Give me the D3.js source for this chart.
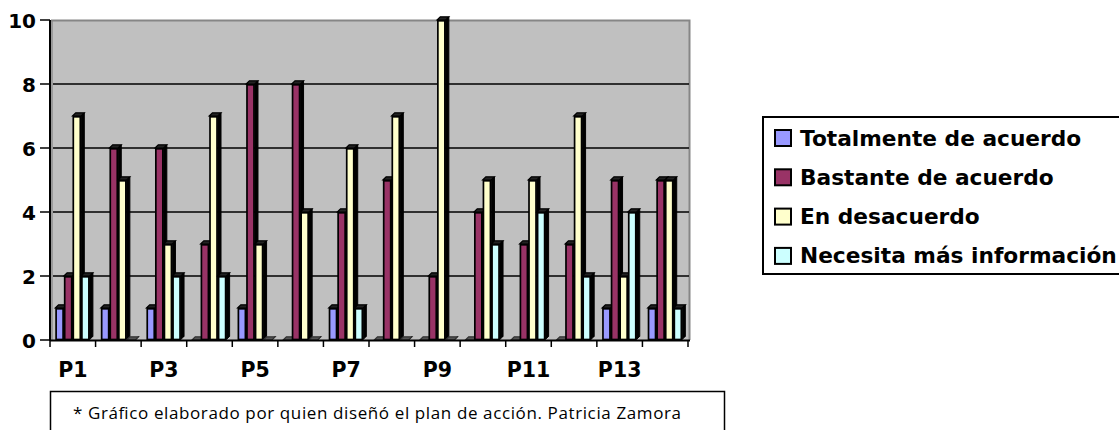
<!DOCTYPE html>
<html>
<head>
<meta charset="utf-8">
<script src="https://cdn.jsdelivr.net/npm/d3@7/dist/d3.min.js"></script>
<style>
  html, body { margin: 0; padding: 0; background: #fff; }
  svg { display: block; }
</style>
</head>
<body>
<svg id="chart" width="1119" height="430"></svg>
<script>
// ---- data ----
const categories = ["P1","P2","P3","P4","P5","P6","P7","P8","P9","P10","P11","P12","P13","P14"];
const seriesNames = ["Totalmente de acuerdo","Bastante de acuerdo","En desacuerdo","Necesita más información"];
const totalmente = [1,1,1,0,1,0,1,0,0,0,0,0,1,1];
const bastante   = [2,6,6,3,8,8,4,5,2,4,3,3,5,5];
const desacuerdo = [7,5,3,7,3,4,6,7,10,5,5,7,2,5];
const necesita   = [2,0,2,2,0,0,1,0,0,3,4,2,4,1];
const yTicks = [0,2,4,6,8,10];
const xTickLabels = ["P1","P3","P5","P7","P9","P11","P13"];
const footnote = "* Gráfico elaborado por quien diseñó el plan de acción. Patricia Zamora";

const seriesValues = [totalmente, bastante, desacuerdo, necesita];
const colors = ["#9999FF","#993366","#FFFFCC","#CCFFFF"];

// ---- layout ----
const svg = d3.select("#chart");
const pL = 50, pR = 688, pT = 20, pB = 340;
const x = d3.scaleBand().domain(categories).range([pL, pR]).paddingInner(0).paddingOuter(0);
const y = d3.scaleLinear().domain([0, 10]).range([pB, pT]);
const axisFont = "'DejaVu Sans', Verdana, sans-serif";

// back wall
svg.append("rect").attr("x", pL + 1).attr("y", pT).attr("width", 690 - pL - 1).attr("height", pB - pT)
  .attr("fill", "#C0C0C0");
svg.append("rect").attr("x", pL + 0.5).attr("y", pT).attr("width", 2.5).attr("height", pB - pT)
  .attr("fill", "#9A9A9A");
// top & right border
svg.append("path").attr("d", `M${pL+1},${pT+0.5} H689.5 V${pB}`)
  .attr("fill", "none").attr("stroke", "#868686").attr("stroke-width", 2);

// gridlines
svg.append("g").selectAll("line").data(yTicks.filter(t => t > 0 && t < 10)).join("line")
  .attr("x1", pL + 3).attr("x2", 689)
  .attr("y1", d => y(d)).attr("y2", d => y(d))
  .attr("stroke", "#000").attr("stroke-width", 1.4);

// bars
const s = 8.6, d = 3.2, off = 5.3;
const bars = svg.append("g");
categories.forEach((c, i) => {
  seriesValues.forEach((vals, j) => {
    const v = vals[i];
    const x0 = x(c) + off + j * s;
    const yt = y(v), yb = y(0) - 0.5;
    // side
    bars.append("path")
      .attr("d", `M${x0+s},${yt} L${x0+s+d},${yt-d} L${x0+s+d},${yb-d} L${x0+s},${yb} Z`)
      .attr("fill", "#000").attr("stroke", "#000").attr("stroke-width", 1);
    // top
    bars.append("path")
      .attr("d", `M${x0},${yt} L${x0+d},${yt-d} L${x0+s+d},${yt-d} L${x0+s},${yt} Z`)
      .attr("fill", v === 0 ? "#555" : "#222").attr("stroke", v === 0 ? "#333" : "#000").attr("stroke-width", 1.2);
    // front
    if (v > 0) {
      bars.append("rect")
        .attr("x", x0 + 0.8).attr("y", yt + 0.8)
        .attr("width", s - 1.6).attr("height", Math.max(0, yb - yt - 0.8))
        .attr("fill", colors[j]).attr("stroke", "#000").attr("stroke-width", 1.7);
    }
  });
});

// y axis
svg.append("line").attr("x1", pL).attr("x2", pL).attr("y1", pT).attr("y2", pB + 1)
  .attr("stroke", "#000").attr("stroke-width", 2);
const yAxis = svg.append("g").selectAll("g").data(yTicks).join("g");
yAxis.append("line").attr("x1", 40).attr("x2", pL).attr("y1", t => y(t)).attr("y2", t => y(t))
  .attr("stroke", "#000").attr("stroke-width", 1.5);
yAxis.append("text").attr("x", 36).attr("y", t => y(t) + 7.5)
  .attr("text-anchor", "end").attr("font-family", axisFont).attr("font-weight", "bold")
  .attr("font-size", 20).attr("fill", "#000").text(t => t);

// x axis
svg.append("line").attr("x1", pL).attr("x2", 690).attr("y1", pB + 0.5).attr("y2", pB + 0.5)
  .attr("stroke", "#000").attr("stroke-width", 2);
const bounds = d3.range(categories.length + 1).map(k => pL + k * x.step());
svg.append("g").selectAll("line").data(bounds).join("line")
  .attr("x1", b => b).attr("x2", b => b).attr("y1", pB).attr("y2", pB + 7)
  .attr("stroke", "#000").attr("stroke-width", 1.5);
svg.append("g").selectAll("text").data(xTickLabels).join("text")
  .attr("x", c => x(c) + x.bandwidth() / 2).attr("y", 377)
  .attr("text-anchor", "middle").attr("font-family", axisFont).attr("font-weight", "bold")
  .attr("font-size", 20.5).attr("fill", "#000").text(c => c);

// legend
const lg = svg.append("g");
lg.append("rect").attr("x", 763).attr("y", 117).attr("width", 370).attr("height", 157)
  .attr("fill", "#fff").attr("stroke", "#000").attr("stroke-width", 2);
const rows = lg.selectAll("g").data(seriesNames).join("g")
  .attr("transform", (n, k) => `translate(0, ${138 + k * 39.3})`);
rows.append("rect").attr("x", 775).attr("y", -8).attr("width", 16).attr("height", 16)
  .attr("fill", (n, k) => colors[k]).attr("stroke", "#000").attr("stroke-width", 2);
rows.append("text").attr("x", 800).attr("y", 7.5)
  .attr("font-family", axisFont).attr("font-weight", "bold").attr("font-size", 21.7)
  .attr("fill", "#000").text(n => n);

// footnote
svg.append("rect").attr("x", 50.5).attr("y", 391.5).attr("width", 674).attr("height", 60)
  .attr("fill", "none").attr("stroke", "#000").attr("stroke-width", 1.5);
svg.append("text").attr("x", 73).attr("y", 419)
  .attr("font-family", "'Open Sans', 'Noto Sans', sans-serif").attr("font-size", 17)
  .attr("textLength", 608).attr("lengthAdjust", "spacing")
  .attr("fill", "#000").text(footnote);
</script>
</body>
</html>
